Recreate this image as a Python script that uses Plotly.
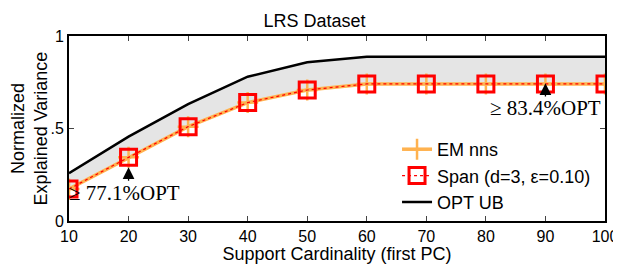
import plotly.graph_objects as go

x_card = [10, 20, 30, 40, 50, 60, 70, 80, 90, 100]
em_nns = [0.173, 0.344, 0.51, 0.64, 0.708, 0.741, 0.741, 0.741, 0.741, 0.741]
span_vals = [0.173, 0.344, 0.51, 0.64, 0.708, 0.741, 0.741, 0.741, 0.741, 0.741]
opt_ub = [0.258, 0.456, 0.632, 0.78, 0.858, 0.888, 0.888, 0.888, 0.888, 0.888]
x_ticks = [10, 20, 30, 40, 50, 60, 70, 80, 90, 100]
y_ticks = [0, 0.5, 1]
y_tick_text = ["0", ".5", "1"]

fig = go.Figure()
# gray gap fill
fig.add_trace(go.Scatter(x=x_card, y=span_vals, mode="lines", line=dict(width=0, color="rgba(0,0,0,0)"),
                         showlegend=False, hoverinfo="skip"))
fig.add_trace(go.Scatter(x=x_card, y=opt_ub, mode="lines", line=dict(width=0, color="rgba(0,0,0,0)"),
                         fill="tonexty", fillcolor="#e5e5e5", showlegend=False, hoverinfo="skip"))

fig.add_trace(go.Scatter(x=x_card, y=em_nns, mode="lines+markers", name="EM nns",
                         line=dict(color="#ffb24f", width=3.5),
                         marker=dict(symbol="cross-thin", size=15, line=dict(color="#ffb24f", width=2.5))))
fig.add_trace(go.Scatter(x=x_card, y=span_vals, mode="lines+markers", name="Span (d=3, ε=0.10)",
                         line=dict(color="#ff0000", width=1.2, dash="dot"),
                         marker=dict(symbol="square-open", size=16, color="#ff0000", line=dict(color="#ff0000", width=3))))
fig.add_trace(go.Scatter(x=x_card, y=opt_ub, mode="lines", name="OPT UB",
                         line=dict(color="black", width=2.5)))

serif = dict(family="Liberation Serif", size=21, color="black")
fig.add_annotation(x=10, y=0.15, text="≥ 77.1%OPT", showarrow=False, xanchor="left", yanchor="middle",
                   xshift=-2, font=serif)
fig.add_annotation(x=100, y=0.61, text="≥ 83.4%OPT", showarrow=False, xanchor="right", yanchor="middle",
                   xshift=-2, font=serif)
fig.add_annotation(x=20, y=0.29, ax=20, ay=0.21, axref="x", ayref="y", text="", showarrow=True,
                   arrowhead=2, arrowsize=1.8, arrowwidth=1.3, arrowcolor="black")
fig.add_annotation(x=90, y=0.745, ax=90, ay=0.665, axref="x", ayref="y", text="", showarrow=True,
                   arrowhead=2, arrowsize=1.8, arrowwidth=1.3, arrowcolor="black")

# page body has an 8px margin; the figure is sized/offset to compensate
fig.update_layout(
    width=613, height=256,
    margin=dict(l=61, r=16, t=28, b=43, autoexpand=False),
    paper_bgcolor="white", plot_bgcolor="white",
    font=dict(family="Liberation Sans, Arial", size=17, color="black"),
    title=dict(text="LRS Dataset", x=0.5, xanchor="center", y=0.975, yanchor="top",
               font=dict(size=18)),
    showlegend=True,
    legend=dict(x=0.612, y=0.0, xanchor="left", yanchor="bottom", bgcolor="rgba(0,0,0,0)",
                font=dict(size=18), tracegroupgap=0, traceorder="normal", itemsizing="trace"),
)
fig.update_xaxes(range=[10, 100], tickvals=x_ticks, ticks="inside", ticklen=5, tickwidth=1,
                 showline=True, linecolor="black", linewidth=2, mirror="ticks", showgrid=False,
                 zeroline=False, tickfont=dict(size=16), automargin=False, ticklabeloverflow="allow",
                 title=dict(text="Support Cardinality (first PC)", standoff=0, font=dict(size=18)))
fig.update_yaxes(range=[0, 1], tickvals=y_ticks, ticktext=y_tick_text, ticks="inside", ticklen=5,
                 tickwidth=1, showline=True, linecolor="black", linewidth=2, mirror="ticks",
                 showgrid=False, zeroline=False, tickfont=dict(size=16), automargin=False,
                 title=dict(text="Normalized<br>Explained Variance", standoff=4, font=dict(size=18)))

fig.write_html("out.html")
